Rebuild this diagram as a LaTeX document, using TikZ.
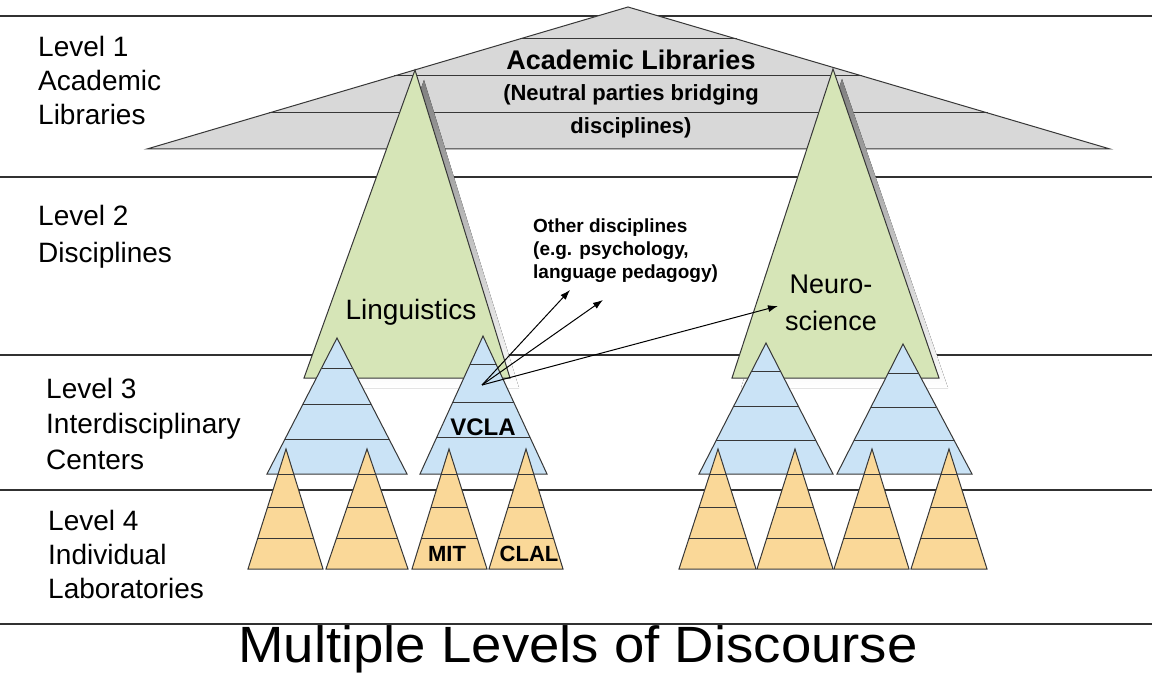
\documentclass[tikz,border=0pt]{standalone}
\usepackage{fontspec}
\setmainfont{Liberation Sans}
\usetikzlibrary{calc,arrows.meta}
\definecolor{libgray}{RGB}{216,216,216}
\definecolor{discgreen}{RGB}{214,229,183}
\definecolor{centblue}{RGB}{202,227,246}
\definecolor{laborange}{RGB}{250,216,152}
\definecolor{edge}{RGB}{55,55,55}
\definecolor{shade}{RGB}{128,128,128}
\tikzset{
  levelline/.style={line width=1.8pt, draw=edge!90!black},
  tribox/.style={draw=edge, line width=1pt, line join=miter},
  stripe/.style={draw=edge, line width=1pt},
  levellabel/.style={anchor=north west, inner sep=0pt, align=left, font=\fontsize{28}{35}\selectfont},
  linkarrow/.style={draw=black, line width=1pt, -{Latex[length=10pt,width=7pt]}},
}
\newcommand{\mytri}[7]{%
  \filldraw[tribox,fill=#1] (#2,#3) -- (#4,#6) -- (#5,#6) -- cycle;
  \foreach \s in {#7}{%
    \pgfmathsetmacro{\myfrac}{(\s-#3)/(#6-#3)}%
    \draw[stripe] ($(#2,#3)!\myfrac!(#4,#6)$) -- ($(#2,#3)!\myfrac!(#5,#6)$);
  }%
}
\newcommand{\mygreen}[5]{%
  \fill[shade] ($(#1,#2)+(9,10)$) -- ($(#3,#5)+(9,10)$) -- ($(#4,#5)+(9,10)$) -- cycle;
  \filldraw[tribox,fill=discgreen] (#1,#2) -- (#3,#5) -- (#4,#5) -- cycle;
}
\begin{document}
\begin{tikzpicture}[x=1pt,y=-1pt]
\useasboundingbox (0,0) rectangle (1152,674);
\fill[white] (0,0) rectangle (1152,674);
% level separators
\draw[levelline] (0,16) -- (1152,16);
\draw[levelline] (0,177) -- (1152,177);
\draw[levelline] (0,355) -- (1152,355);
\draw[levelline] (0,490) -- (1152,490);
\draw[levelline] (0,624) -- (1152,624);
% level 1 triangle
\mytri{libgray}{628}{7}{147}{1110}{149}{39,76,113}
\node[font=\fontsize{27}{32}\bfseries] (acad) at (631,60) {Academic Libraries};
\node[font=\fontsize{22}{26}\bfseries] (neutral) at (631,95) {(Neutral parties bridging};
\node[font=\fontsize{22}{26}\bfseries] (discs) at (631,128) {disciplines)};
% level 2 triangles
\mygreen{415}{70}{304}{510}{378}
\mygreen{833}{69}{732}{939}{378}
\node[font=\fontsize{28}{34}\selectfont] (ling) at (411,312) {Linguistics};
\node[font=\fontsize{27}{37}\selectfont, align=center] (neuro) at (831,303) {Neuro-\\science};
% level 3 triangles
\mytri{centblue}{337}{338}{267}{407}{474}{368,404,439}
\mytri{centblue}{483}{336}{420}{547}{474}{364,402,437}
\mytri{centblue}{766}{343}{699}{833}{474}{372,406,440}
\mytri{centblue}{903}{344}{837}{972}{474}{373,407,440}
\node[font=\fontsize{24}{28}\bfseries] (vcla) at (483,427) {VCLA};
% level 4 triangles
\mytri{laborange}{286}{449}{248}{323}{569}{474,507,538}
\mytri{laborange}{367}{449}{326}{408}{569}{474,507,538}
\mytri{laborange}{449}{449}{412}{487}{569}{474,507,538}
\mytri{laborange}{526}{449}{489}{563}{569}{474,507,538}
\mytri{laborange}{718}{449}{679}{756}{569}{474,507,538}
\mytri{laborange}{795}{449}{757}{833}{569}{474,507,538}
\mytri{laborange}{872}{449}{834}{909}{569}{474,507,538}
\mytri{laborange}{949}{449}{911}{987}{569}{474,507,538}
\node[font=\fontsize{22}{26}\bfseries] (mit) at (447,554) {MIT};
\node[font=\fontsize{22}{26}\bfseries] (clal) at (529,554) {CLAL};
% arrows
\coordinate (src) at (482,385);
\coordinate (tgtA) at (570,290);
\coordinate (tgtB) at (603,300);
\coordinate (tgtC) at (778,306);
\draw[linkarrow] (src) -- (tgtA);
\draw[linkarrow] (src) -- (tgtB);
\draw[linkarrow] (src) -- (tgtC);
\node[anchor=north west, inner sep=0pt, align=left, font=\fontsize{19}{23}\bfseries] (other) at (533,219) {Other disciplines\\(e.g. psychology,\\language pedagogy)};
% level labels
\node[levellabel, font=\fontsize{28}{34}\selectfont] (l1) at (38,36) {Level 1\\Academic\\Libraries};
\node[levellabel, font=\fontsize{28}{37}\selectfont] (l2) at (38,205) {Level 2\\Disciplines};
\node[levellabel, font=\fontsize{28}{35.5}\selectfont] (l3) at (46,378) {Level 3\\Interdisciplinary\\Centers};
\node[levellabel, font=\fontsize{28}{34}\selectfont] (l4) at (48,510) {Level 4\\Individual\\Laboratories};
% title
\node[anchor=base, inner sep=0pt, font=\fontsize{51}{56}\selectfont] (title) at (578,662) {\scalebox{1.07}[1]{Multiple Levels of Discourse}};
\end{tikzpicture}
\end{document}
